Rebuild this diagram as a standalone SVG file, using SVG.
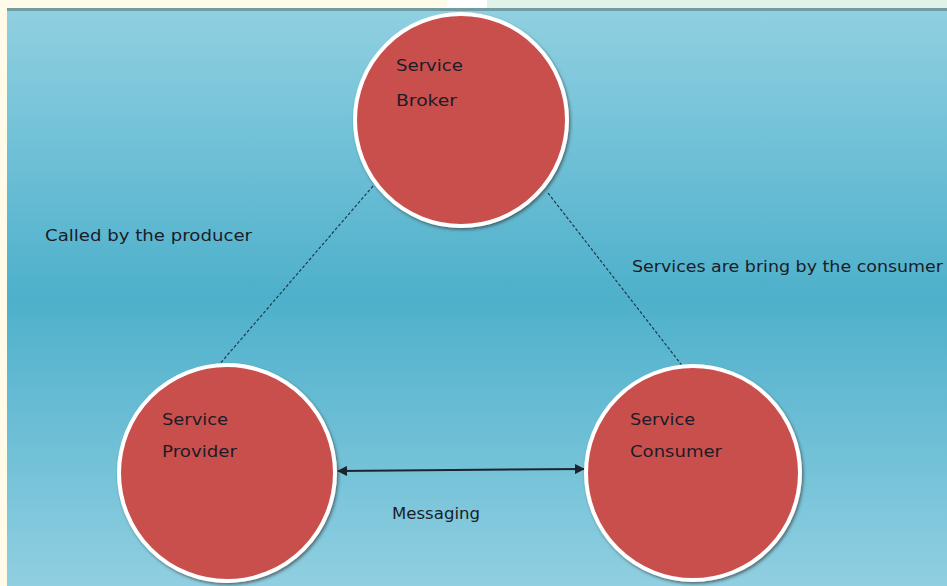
<svg xmlns="http://www.w3.org/2000/svg" width="947" height="586" viewBox="0 0 947 586">
  <defs>
    <linearGradient id="bg" x1="0" y1="0" x2="0" y2="1">
      <stop offset="0" stop-color="#90d0e1"/>
      <stop offset="0.5" stop-color="#4eb0cb"/>
      <stop offset="1" stop-color="#90cfe1"/>
    </linearGradient>
    <filter id="shadow" x="-10%" y="-10%" width="125%" height="125%">
      <feDropShadow dx="1.5" dy="2" stdDeviation="1.5" flood-color="#333" flood-opacity="0.6"/>
    </filter>
    <marker id="arrow" viewBox="0 0 10 10" refX="9" refY="5" markerWidth="5" markerHeight="5" orient="auto-start-reverse">
      <path d="M0,0 L10,5 L0,10 z" fill="#1b2430"/>
    </marker>
  </defs>
  <style>
    .node { fill: #c9504e; stroke: #ffffff; stroke-width: 4; filter: url(#shadow); }
    .label { font-family: "DejaVu Sans", Verdana, sans-serif; font-size: 16px; fill: #1c1c28; }
    .dash { stroke: #1d3a4a; stroke-width: 1.2; stroke-dasharray: 3 2; fill: none; }
    .msg { stroke: #1b2430; stroke-width: 2; fill: none; }
  </style>

  <!-- page strips -->
  <rect x="0" y="0" width="947" height="586" fill="#fffbe8"/>
  <rect x="447" y="0" width="40" height="9" fill="#ffffff"/>
  <rect x="487" y="0" width="460" height="9" fill="#e2f2e8"/>
  <rect x="7" y="9" width="940" height="577" fill="url(#bg)"/>
  <rect x="7" y="8" width="940" height="3" fill="#6f9ba2"/>

  <!-- connectors -->
  <g id="connectors">
    <line class="dash" x1="373" y1="186" x2="218" y2="366"/>
    <line class="dash" x1="548" y1="193" x2="684" y2="368"/>
    <line class="msg" x1="338" y1="471" x2="584" y2="469" marker-start="url(#arrow)" marker-end="url(#arrow)"/>
  </g>

  <g id="broker">
    <circle class="node" cx="461" cy="120" r="106"/>
    <text class="label" x="396" y="71" textLength="67" lengthAdjust="spacingAndGlyphs">Service</text>
    <text class="label" x="396" y="106" textLength="61" lengthAdjust="spacingAndGlyphs">Broker</text>
  </g>

  <g id="provider">
    <circle class="node" cx="227" cy="473" r="108"/>
    <text class="label" x="162" y="425" textLength="66" lengthAdjust="spacingAndGlyphs">Service</text>
    <text class="label" x="162" y="457" textLength="75" lengthAdjust="spacingAndGlyphs">Provider</text>
  </g>

  <g id="consumer">
    <circle class="node" cx="693" cy="473" r="107"/>
    <text class="label" x="630" y="425" textLength="65" lengthAdjust="spacingAndGlyphs">Service</text>
    <text class="label" x="630" y="457" textLength="92" lengthAdjust="spacingAndGlyphs">Consumer</text>
  </g>

  <g id="edge-labels">
    <text class="label" x="45" y="241" textLength="207" lengthAdjust="spacingAndGlyphs">Called by the producer</text>
    <text class="label" x="632" y="272" textLength="311" lengthAdjust="spacingAndGlyphs">Services are bring by the consumer</text>
    <text class="label" x="392" y="519" textLength="88" lengthAdjust="spacingAndGlyphs">Messaging</text>
  </g>
</svg>
